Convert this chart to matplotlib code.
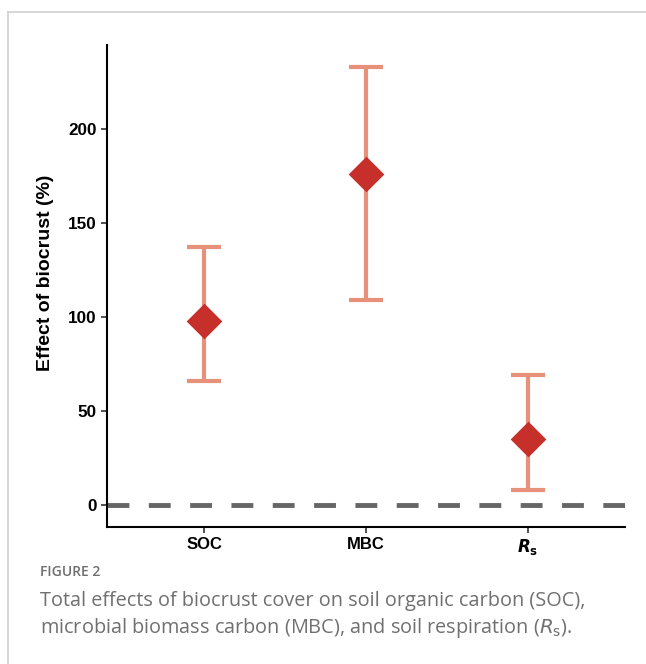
"""Total effects of biocrust cover on soil C pools and respiration."""
import matplotlib
matplotlib.use("Agg")
import matplotlib.pyplot as plt
from matplotlib.lines import Line2D

categories = ["SOC", "MBC", r"$\boldsymbol{R}_{\mathbf{s}}$"]
effect = [98, 176, 35]
ci_low = [66, 109, 8]
ci_high = [137, 233, 69]
yticks = [0, 50, 100, 150, 200]

W, H = 646, 664
fig = plt.figure(figsize=(W / 100, H / 100), dpi=100)
plt.rcParams["font.family"] = ["Liberation Sans", "DejaVu Sans"]

# light frame around the figure panel
fig.add_artist(Line2D([8 / W, 1], [1 - 12 / H, 1 - 12 / H], color="#d0d0d0", lw=1.2))
fig.add_artist(Line2D([8 / W, 8 / W], [0, 1 - 12 / H], color="#d0d0d0", lw=1.2))

ax = fig.add_axes([107 / W, 1 - 527 / H, (625 - 107) / W, (527 - 45) / H])
x = [1, 2, 3]

ax.axhline(0, color="#666666", lw=3.5, ls=(0, (4.5, 4)), zorder=1)

yerr = [[e - lo for e, lo in zip(effect, ci_low)],
        [hi - e for e, hi in zip(effect, ci_high)]]
ax.errorbar(x, effect, yerr=yerr, fmt="none", ecolor="#e8917a",
            elinewidth=3, capsize=12, capthick=3, zorder=2)
ax.scatter(x, effect, marker="D", s=330, color="#c62f2a", zorder=3,
           linewidths=0)

ax.set_xlim(0.4, 3.6)
ax.set_ylim(-11.7, 244.7)
ax.set_xticks(x)
ax.set_xticklabels(categories, fontsize=12, fontweight="bold")
ax.set_yticks(yticks)
ax.set_yticklabels([str(t) for t in yticks], fontsize=12.3, fontweight="bold")
ax.set_ylabel("Effect of biocrust (%)", fontsize=14, fontweight="bold")
ax.yaxis.set_label_coords(-0.102, 0.527)

for side in ["top", "right"]:
    ax.spines[side].set_visible(False)
for side in ["left", "bottom"]:
    ax.spines[side].set_linewidth(1.5)
ax.tick_params(axis="both", length=4, width=1.2, color="#333333")

fig.text(40 / W, 1 - 572 / H, "FIGURE 2", fontsize=10, color="#6e6e6e",
         family="Open Sans", weight="semibold", va="center")
fig.text(40 / W, 1 - 601 / H,
         "Total effects of biocrust cover on soil organic carbon (SOC),",
         fontsize=14.3, color="#707070", family="Open Sans", va="center")
fig.text(40 / W, 1 - 628 / H,
         r"microbial biomass carbon (MBC), and soil respiration ($\mathit{R}_{\mathrm{s}}$).",
         fontsize=14.3, color="#707070", family="Open Sans", va="center")

fig.savefig("out.png", dpi=100)
